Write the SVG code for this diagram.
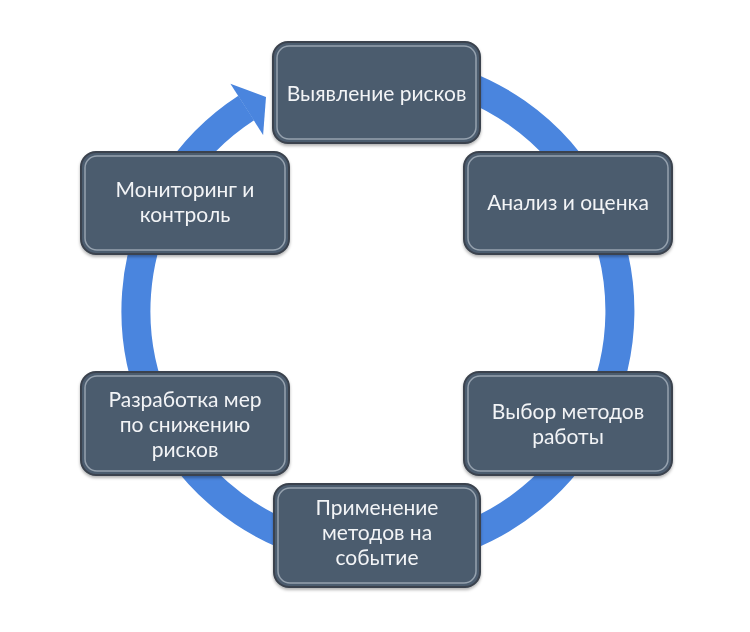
<svg xmlns="http://www.w3.org/2000/svg" width="750" height="632" viewBox="0 0 750 632">
<defs>
<style>
.box{fill:#4c5b6e;stroke:#3a424d;stroke-width:2}
.bevel{fill:none;stroke:#aeb9c4;stroke-width:1.5;opacity:0.75}
.t{font-family:Lato,"Open Sans","Noto Sans",sans-serif;font-size:21px;fill:#f2f4f6;text-anchor:middle}
</style>
<filter id="sh" x="-10%" y="-10%" width="120%" height="130%">
<feDropShadow dx="0" dy="2" stdDeviation="1.5" flood-color="#000" flood-opacity="0.3"/>
</filter>
</defs>
<rect width="750" height="632" fill="#ffffff"/>
<g id="connectors">
<path d="M420 72.7 A242 242 0 1 1 246.2 108" fill="none" stroke="#4a85de" stroke-width="29"/>
<polygon points="230.4,83.7 266,97 263.1,135" fill="#4a85de"/>
</g>
<g id="n1" filter="url(#sh)">
<rect class="box" x="273" y="42" width="207" height="101" rx="15"/>
<rect class="bevel" x="277" y="46" width="199" height="93" rx="12"/>
<text class="t" x="376.5" y="101">Выявление рисков</text>
</g>
<g id="n2" filter="url(#sh)">
<rect class="box" x="464" y="152" width="208" height="102" rx="15"/>
<rect class="bevel" x="468" y="156" width="200" height="94" rx="12"/>
<text class="t" x="568" y="210">Анализ и оценка</text>
</g>
<g id="n3" filter="url(#sh)">
<rect class="box" x="464" y="372" width="208" height="103" rx="15"/>
<rect class="bevel" x="468" y="376" width="200" height="95" rx="12"/>
<text class="t" x="568" y="419">Выбор методов</text>
<text class="t" x="568" y="444">работы</text>
</g>
<g id="n4" filter="url(#sh)">
<rect class="box" x="274" y="484" width="206" height="103" rx="15"/>
<rect class="bevel" x="278" y="488" width="198" height="95" rx="12"/>
<text class="t" x="377" y="515">Применение</text>
<text class="t" x="377" y="540">методов на</text>
<text class="t" x="377" y="565">событие</text>
</g>
<g id="n5" filter="url(#sh)">
<rect class="box" x="81" y="372" width="208" height="103" rx="15"/>
<rect class="bevel" x="85" y="376" width="200" height="95" rx="12"/>
<text class="t" x="185" y="407">Разработка мер</text>
<text class="t" x="185" y="432">по снижению</text>
<text class="t" x="185" y="457">рисков</text>
</g>
<g id="n6" filter="url(#sh)">
<rect class="box" x="81" y="152" width="208" height="102" rx="15"/>
<rect class="bevel" x="85" y="156" width="200" height="94" rx="12"/>
<text class="t" x="185" y="197">Мониторинг и</text>
<text class="t" x="185" y="222">контроль</text>
</g>
</svg>
